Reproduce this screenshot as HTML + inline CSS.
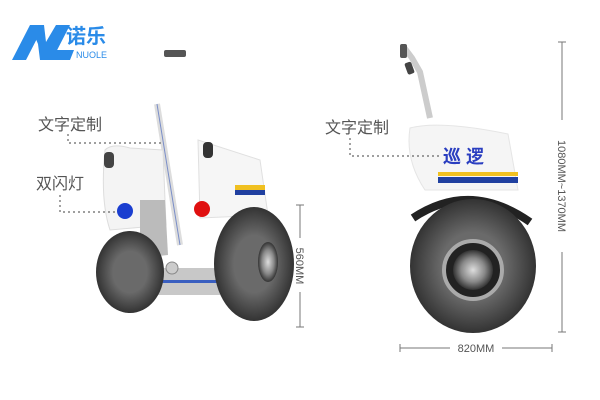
<!DOCTYPE html>
<html><head><meta charset="utf-8"><style>
html,body{margin:0;padding:0;background:#fff;width:600px;height:400px;overflow:hidden}
text{font-family:"Liberation Sans","Noto Sans CJK SC",sans-serif}
</style></head><body>
<svg width="600" height="400" viewBox="0 0 600 400" xmlns="http://www.w3.org/2000/svg">
<defs>
<radialGradient id="tire" cx="50%" cy="50%" r="50%"><stop offset="0.5" stop-color="#6a6a6a"/><stop offset="1" stop-color="#333"/></radialGradient>
<radialGradient id="hub" cx="50%" cy="50%" r="50%"><stop offset="0" stop-color="#ddd"/><stop offset="0.6" stop-color="#888"/><stop offset="1" stop-color="#333"/></radialGradient>
</defs>
<!-- logo -->
<polygon points="12,60 30,25 44,25 26,60" fill="#2a8be8"/>
<polygon points="30,25 44,25 46,42 56,25 70,25 52,60 40,60 38,44" fill="#2a8be8"/>
<polygon points="46,60 52,50 74,50 70,60" fill="#2a8be8"/>
<text x="66" y="43" font-size="20" font-weight="bold" fill="#2a8be8">诺乐</text>
<text x="76" y="58" font-size="9" fill="#2a8be8">NUOLE</text>

<!-- left scooter -->
<rect x="164" y="50" width="22" height="7" rx="2" fill="#555"/>
<line x1="157" y1="104" x2="180" y2="245" stroke="#ddd" stroke-width="6"/>
<line x1="157" y1="104" x2="180" y2="245" stroke="#7a8ec8" stroke-width="1"/>
<path d="M105,150 Q112,143 130,148 L163,150 L166,225 L110,230 Q100,200 105,150Z" fill="#f4f4f4" stroke="#ddd"/>
<rect x="104" y="152" width="10" height="16" rx="4" fill="#444"/>
<path d="M140,200 L165,200 L168,255 L140,258Z" fill="#bbb"/>
<path d="M198,140 L260,160 L268,215 L200,218Z" fill="#f6f6f6" stroke="#e0e0e0"/>
<rect x="203" y="142" width="10" height="16" rx="4" fill="#333"/>
<rect x="235" y="185" width="30" height="6" fill="#f0c020"/><rect x="235" y="190" width="30" height="5" fill="#2040a0"/>
<circle cx="125" cy="211" r="8" fill="#1a3ed0"/>
<circle cx="202" cy="209" r="8" fill="#e01010"/>
<rect x="140" y="268" width="80" height="27" fill="#c8c8c8"/>
<rect x="140" y="280" width="80" height="3" fill="#3a5fc0"/>
<ellipse cx="130" cy="272" rx="34" ry="41" fill="url(#tire)"/>
<ellipse cx="254" cy="264" rx="40" ry="57" fill="url(#tire)"/>
<ellipse cx="268" cy="262" rx="10" ry="20" fill="url(#hub)"/>
<circle cx="172" cy="268" r="6" fill="#ccc" stroke="#888"/>
<!-- left labels -->
<text x="38" y="130" font-size="16" fill="#555">文字定制</text>
<path d="M68,134 V143 H163" stroke="#666" stroke-width="1.2" stroke-dasharray="2,3" fill="none"/>
<text x="36" y="189" font-size="16" fill="#555">双闪灯</text>
<path d="M60,195 V212 H115" stroke="#666" stroke-width="1.2" stroke-dasharray="2,3" fill="none"/>
<!-- 560 -->
<line x1="300" y1="205" x2="300" y2="238" stroke="#777"/><line x1="300" y1="292" x2="300" y2="327" stroke="#777"/>
<line x1="296" y1="205" x2="304" y2="205" stroke="#777"/><line x1="296" y1="327" x2="304" y2="327" stroke="#777"/>
<text transform="translate(296,266) rotate(90)" font-size="11" fill="#555" text-anchor="middle">560MM</text>

<!-- right scooter -->
<path d="M403,46 L412,58 L420,72 L430,118" stroke="#ccc" stroke-width="6" fill="none"/>
<rect x="400" y="44" width="7" height="14" rx="2" fill="#555"/>
<rect x="406" y="62" width="7" height="12" rx="2" fill="#444" transform="rotate(-20 410 68)"/>
<path d="M410,128 Q440,120 508,134 L518,190 L425,190 Q405,160 410,128Z" fill="#f5f5f5" stroke="#e5e5e5"/>
<text x="443" y="163" font-size="18" font-weight="bold" fill="#2a3ec0">巡 逻</text>
<rect x="438" y="172" width="80" height="4" fill="#f0c020"/>
<rect x="438" y="177" width="80" height="6" fill="#2040a0"/>
<path d="M413,218 Q470,180 530,222" stroke="#222" stroke-width="8" fill="none"/>
<ellipse cx="473" cy="266" rx="63" ry="67" fill="url(#tire)"/>
<circle cx="473" cy="270" r="29" fill="#222" stroke="#aaa" stroke-width="4"/>
<circle cx="473" cy="270" r="20" fill="url(#hub)"/>
<text x="325" y="133" font-size="16" fill="#555">文字定制</text>
<path d="M350,138 V156 H440" stroke="#666" stroke-width="1.2" stroke-dasharray="2,3" fill="none"/>
<!-- dims -->
<line x1="562" y1="42" x2="562" y2="120" stroke="#777"/><line x1="562" y1="252" x2="562" y2="332" stroke="#777"/>
<line x1="558" y1="42" x2="566" y2="42" stroke="#777"/><line x1="558" y1="332" x2="566" y2="332" stroke="#777"/>
<text transform="translate(558,186) rotate(90)" font-size="11" fill="#555" text-anchor="middle">1080MM~1370MM</text>
<line x1="400" y1="348" x2="450" y2="348" stroke="#777"/><line x1="502" y1="348" x2="552" y2="348" stroke="#777"/>
<line x1="400" y1="344" x2="400" y2="352" stroke="#777"/><line x1="552" y1="344" x2="552" y2="352" stroke="#777"/>
<text x="476" y="352" font-size="11" fill="#555" text-anchor="middle">820MM</text>
</svg>
</body></html>
